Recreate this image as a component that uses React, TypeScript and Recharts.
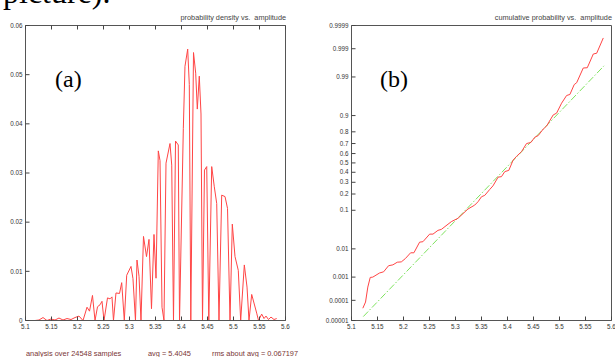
import React from 'react';
import { LineChart, Line, XAxis, YAxis } from 'recharts';

// ---------- data ----------
const xTickValues = [5.1, 5.15, 5.2, 5.25, 5.3, 5.35, 5.4, 5.45, 5.5, 5.55, 5.6];
const xTickLabels = ['5.1', '5.15', '5.2', '5.25', '5.3', '5.35', '5.4', '5.45', '5.5', '5.55', '5.6'];
const densityTickValues = [0, 0.01, 0.02, 0.03, 0.04, 0.05, 0.06];
const densityTickLabels = ['0', '0.01', '0.02', '0.03', '0.04', '0.05', '0.06'];
const probTickLabels = ['0.00001', '0.0001', '0.001', '0.01', '0.1', '0.2', '0.3', '0.4', '0.5', '0.6', '0.7', '0.8', '0.9', '0.99', '0.999', '0.9999'];

const amplitude = [5.1183, 5.126, 5.1337, 5.1413, 5.149, 5.1567, 5.1644, 5.1721, 5.1798, 5.1875, 5.1952, 5.2029, 5.2106, 5.2183, 5.2231, 5.2288, 5.2337, 5.2385, 5.2433, 5.2471, 5.251, 5.2577, 5.2625, 5.2663, 5.2692, 5.274, 5.2808, 5.285, 5.29, 5.2946, 5.3029, 5.3067, 5.3115, 5.3144, 5.3183, 5.3221, 5.3269, 5.3327, 5.3375, 5.3423, 5.3471, 5.351, 5.3554, 5.3587, 5.3625, 5.3663, 5.3702, 5.3779, 5.3812, 5.3846, 5.3885, 5.3938, 5.3962, 5.4035, 5.4067, 5.4119, 5.415, 5.4179, 5.4231, 5.4273, 5.4304, 5.4342, 5.4375, 5.4404, 5.4442, 5.4485, 5.4525, 5.4581, 5.4631, 5.4677, 5.4721, 5.4773, 5.4837, 5.4885, 5.4933, 5.4977, 5.5029, 5.5092, 5.5138, 5.5208, 5.526, 5.5298, 5.535, 5.5446, 5.5481, 5.5542, 5.5587, 5.5625, 5.5673, 5.5721, 5.5779, 5.5831];
const density = [0, 0.0001, 0.0006, 0, 0.0003, 0.0001, 0.0005, 0.0001, 0.0004, 0.0002, 0.0006, 0.0009, 0, 0.0027, 0.0019, 0.0051, 0, 0.0028, 0.0032, 0.0039, 0, 0.0046, 0.0044, 0.0048, 0, 0.0056, 0.0055, 0.0077, 0, 0.0092, 0.011, 0.0085, 0, 0.0123, 0.009, 0, 0.0171, 0.013, 0.0165, 0.0024, 0.0175, 0.0086, 0.0345, 0.0325, 0.0027, 0, 0.032, 0.036, 0.0316, 0, 0.0365, 0.0357, 0, 0.039, 0.0517, 0.0552, 0.048, 0, 0.0545, 0.0503, 0.043, 0.0497, 0.042, 0, 0.0306, 0.0313, 0, 0.0313, 0.0272, 0.0238, 0, 0.0255, 0.0252, 0.0228, 0, 0.0196, 0.013, 0.0102, 0, 0.0113, 0.0068, 0, 0.0053, 0.0015, 0, 0.0013, 0.0004, 0.0009, 0.0002, 0.0007, 0.0002, 0.0004];

const cdfAmplitude = [5.1218, 5.127, 5.1314, 5.136, 5.141, 5.154, 5.1617, 5.1713, 5.1796, 5.188, 5.1958, 5.2035, 5.2137, 5.22, 5.231, 5.2374, 5.2503, 5.2567, 5.2663, 5.2728, 5.292, 5.3048, 5.324, 5.337, 5.3434, 5.35, 5.3563, 5.366, 5.372, 5.382, 5.3884, 5.3948, 5.4025, 5.4108, 5.4173, 5.427, 5.4366, 5.445, 5.4526, 5.459, 5.4686, 5.475, 5.4879, 5.4944, 5.504, 5.5137, 5.52, 5.5283, 5.533, 5.5457, 5.5534, 5.565, 5.5715, 5.5842];
const cdfProbability = [0.000042, 0.000083, 0.00039, 0.00097, 0.001, 0.00145, 0.0016, 0.0027, 0.0029, 0.0036, 0.0037, 0.0048, 0.0075, 0.0075, 0.016, 0.0165, 0.027, 0.027, 0.034, 0.036, 0.056, 0.067, 0.106, 0.127, 0.147, 0.18, 0.19, 0.237, 0.267, 0.35, 0.355, 0.407, 0.42, 0.53, 0.57, 0.62, 0.7, 0.71, 0.757, 0.77, 0.82, 0.84, 0.903, 0.911, 0.947, 0.966, 0.968, 0.983, 0.985, 0.9949, 0.995, 0.9984, 0.9985, 0.99964];

const fitAmplitude = [5.1227, 5.5856];
const fitProbability = [0.000016, 0.9957];

// ---------- probability (normal quantile) scale ----------
function probit(p: number): number {
  const a = [-39.69683028665376, 220.9460984245205, -275.9285104469687, 138.357751867269, -30.66479806614716, 2.506628277459239];
  const b = [-54.47609879822406, 161.5858368580409, -155.6989798598866, 66.80131188771972, -13.28068155288572];
  const c = [-0.007784894002430293, -0.3223964580411365, -2.400758277161838, -2.549732539343734, 4.374664141464968, 2.938163982698783];
  const d = [0.007784695709041462, 0.3224671290700398, 2.445134137142996, 3.754408661907416];
  const plow = 0.02425;
  const phigh = 1 - plow;
  if (p < plow) {
    const q = Math.sqrt(-2 * Math.log(p));
    return (((((c[0] * q + c[1]) * q + c[2]) * q + c[3]) * q + c[4]) * q + c[5]) / ((((d[0] * q + d[1]) * q + d[2]) * q + d[3]) * q + 1);
  }
  if (p <= phigh) {
    const q = p - 0.5;
    const r = q * q;
    return ((((((a[0] * r + a[1]) * r + a[2]) * r + a[3]) * r + a[4]) * r + a[5]) * q) / (((((b[0] * r + b[1]) * r + b[2]) * r + b[3]) * r + b[4]) * r + 1);
  }
  const q = Math.sqrt(-2 * Math.log(1 - p));
  return -(((((c[0] * q + c[1]) * q + c[2]) * q + c[3]) * q + c[4]) * q + c[5]) / ((((d[0] * q + d[1]) * q + d[2]) * q + d[3]) * q + 1);
}

const densityData = amplitude.map((a, i) => ({ a, d: density[i] }));
const cdfData = cdfAmplitude.map((a, i) => ({ a, z: probit(cdfProbability[i]) }));
const fitData = fitAmplitude.map((a, i) => ({ a, z: probit(fitProbability[i]) }));
const probTickValues = probTickLabels.map((s) => probit(parseFloat(s)));

// ---------- ticks ----------
const TICK_FONT = '"Liberation Sans", Arial, sans-serif';
const TICK_LEN = 4;

function AxisTick(props: any) {
  const { x, y, index, side, labels } = props;
  const label = labels ? labels[index] : null;
  let line = null;
  let text = null;
  if (side === 'bottom') {
    line = <line x1={x} y1={y} x2={x} y2={y - TICK_LEN} stroke="#444" strokeWidth={1} />;
    if (label) text = <text x={x} y={y + 8} textAnchor="middle" fontSize={6.3} fill="#333" fontFamily={TICK_FONT}>{label}</text>;
  } else if (side === 'top') {
    line = <line x1={x} y1={y} x2={x} y2={y + TICK_LEN} stroke="#444" strokeWidth={1} />;
  } else if (side === 'left') {
    line = <line x1={x} y1={y} x2={x + TICK_LEN} y2={y} stroke="#444" strokeWidth={1} />;
    if (label) text = <text x={x - 3} y={y + 2.2} textAnchor="end" fontSize={6.3} fill="#333" fontFamily={TICK_FONT}>{label}</text>;
  } else {
    line = <line x1={x} y1={y} x2={x - TICK_LEN} y2={y} stroke="#444" strokeWidth={1} />;
  }
  return (
    <g>
      {line}
      {text}
    </g>
  );
}

const axisLine = { stroke: '#555', strokeWidth: 1 };

const W = 310;
const H = 357;
// plot area (page pixels): top 25.5, bottom 320.5
const PLOT_TOP = 25.5;
const PLOT_BOTTOM = 320.5;

function DensityChart() {
  // plot x: 25.5 .. 285.5 (chart placed at page x 0)
  return (
    <LineChart width={W} height={H} data={densityData} margin={{ top: PLOT_TOP - 1, left: 25.5 - 1, right: W - 285.5 - 1, bottom: H - PLOT_BOTTOM - 1 }}>
      <XAxis dataKey="a" type="number" domain={[5.1, 5.6]} ticks={xTickValues} interval={0} height={1} tickSize={0} tickMargin={0} axisLine={axisLine} tickLine={false}
        tick={(p: any) => <AxisTick {...p} side="bottom" labels={xTickLabels} />} />
      <XAxis xAxisId="top" orientation="top" dataKey="a" type="number" domain={[5.1, 5.6]} ticks={xTickValues} interval={0} height={1} tickSize={0} tickMargin={0} axisLine={axisLine} tickLine={false}
        tick={(p: any) => <AxisTick {...p} side="top" />} />
      <YAxis type="number" domain={[0, 0.06]} ticks={densityTickValues} interval={0} width={1} tickSize={0} tickMargin={0} axisLine={axisLine} tickLine={false}
        tick={(p: any) => <AxisTick {...p} side="left" labels={densityTickLabels} />} />
      <YAxis yAxisId="right" orientation="right" type="number" domain={[0, 0.06]} ticks={densityTickValues} interval={0} width={1} tickSize={0} tickMargin={0} axisLine={axisLine} tickLine={false}
        tick={(p: any) => <AxisTick {...p} side="right" />} />
      <Line dataKey="d" type="linear" stroke="#ff4545" strokeWidth={1} dot={false} isAnimationActive={false} />
    </LineChart>
  );
}

function CdfChart() {
  // chart placed at page x 305; plot x: 351.5 .. 611.5
  const yDomain: [number, number] = [probTickValues[0], probTickValues[probTickValues.length - 1]];
  return (
    <LineChart width={W} height={H} margin={{ top: PLOT_TOP - 1, left: 46.5 - 1, right: 3.5 - 1, bottom: H - PLOT_BOTTOM - 1 }}>
      <XAxis dataKey="a" type="number" domain={[5.1, 5.6]} ticks={xTickValues} interval={0} height={1} tickSize={0} tickMargin={0} axisLine={axisLine} tickLine={false}
        tick={(p: any) => <AxisTick {...p} side="bottom" labels={xTickLabels} />} />
      <XAxis xAxisId="top" orientation="top" dataKey="a" type="number" domain={[5.1, 5.6]} ticks={xTickValues} interval={0} height={1} tickSize={0} tickMargin={0} axisLine={axisLine} tickLine={false}
        tick={(p: any) => <AxisTick {...p} side="top" />} />
      <YAxis type="number" domain={yDomain} ticks={probTickValues} interval={0} width={1} tickSize={0} tickMargin={0} axisLine={axisLine} tickLine={false}
        tick={(p: any) => <AxisTick {...p} side="left" labels={probTickLabels} />} />
      <YAxis yAxisId="right" orientation="right" type="number" domain={yDomain} ticks={probTickValues} interval={0} width={1} tickSize={0} tickMargin={0} axisLine={axisLine} tickLine={false}
        tick={(p: any) => <AxisTick {...p} side="right" />} />
      <Line data={fitData} dataKey="z" type="linear" stroke="#7ee35e" strokeWidth={1} strokeDasharray="7 2 1.5 2" dot={false} isAnimationActive={false} />
      <Line data={cdfData} dataKey="z" type="linear" stroke="#ff4545" strokeWidth={1} dot={false} isAnimationActive={false} />
    </LineChart>
  );
}

const SMALL_FONT = '"Liberation Sans", Arial, sans-serif';
const SERIF = '"Liberation Serif", "Times New Roman", serif';

export default function App() {
  return (
    <div style={{ position: 'fixed', left: 0, top: 0, width: 615, height: 357, background: '#fff', overflow: 'hidden' }}>
      <div style={{ position: 'absolute', left: 0, top: 0 }}>
        <DensityChart />
      </div>
      <div style={{ position: 'absolute', left: 305, top: 0 }}>
        <CdfChart />
      </div>
      <svg width={615} height={357} style={{ position: 'absolute', left: 0, top: 0, pointerEvents: 'none' }}>
        <text x={3} y={3} fontSize={32} fontFamily={SERIF} fill="#000">picture).</text>
        <text x={286} y={19.5} textAnchor="end" fontSize={7.3} fill="#444" fontFamily={SMALL_FONT} style={{ whiteSpace: 'pre' }}>probability density vs.  amplitude</text>
        <text x={612} y={19.5} textAnchor="end" fontSize={7.3} fill="#444" fontFamily={SMALL_FONT} style={{ whiteSpace: 'pre' }}>cumulative probability vs.  amplitude</text>
        <text x={55} y={87} fontSize={24} fontFamily={SERIF} fill="#000">(a)</text>
        <text x={380} y={87} fontSize={24} fontFamily={SERIF} fill="#000">(b)</text>
        <text x={26} y={355.5} fontSize={7.4} fill="#7a3535" fontFamily={SMALL_FONT}>analysis over 24548 samples</text>
        <text x={148} y={355.5} fontSize={7.4} fill="#7a3535" fontFamily={SMALL_FONT}>avg = 5.4045</text>
        <text x={212} y={355.5} fontSize={7.4} fill="#7a3535" fontFamily={SMALL_FONT}>rms about avg = 0.067197</text>
      </svg>
    </div>
  );
}
